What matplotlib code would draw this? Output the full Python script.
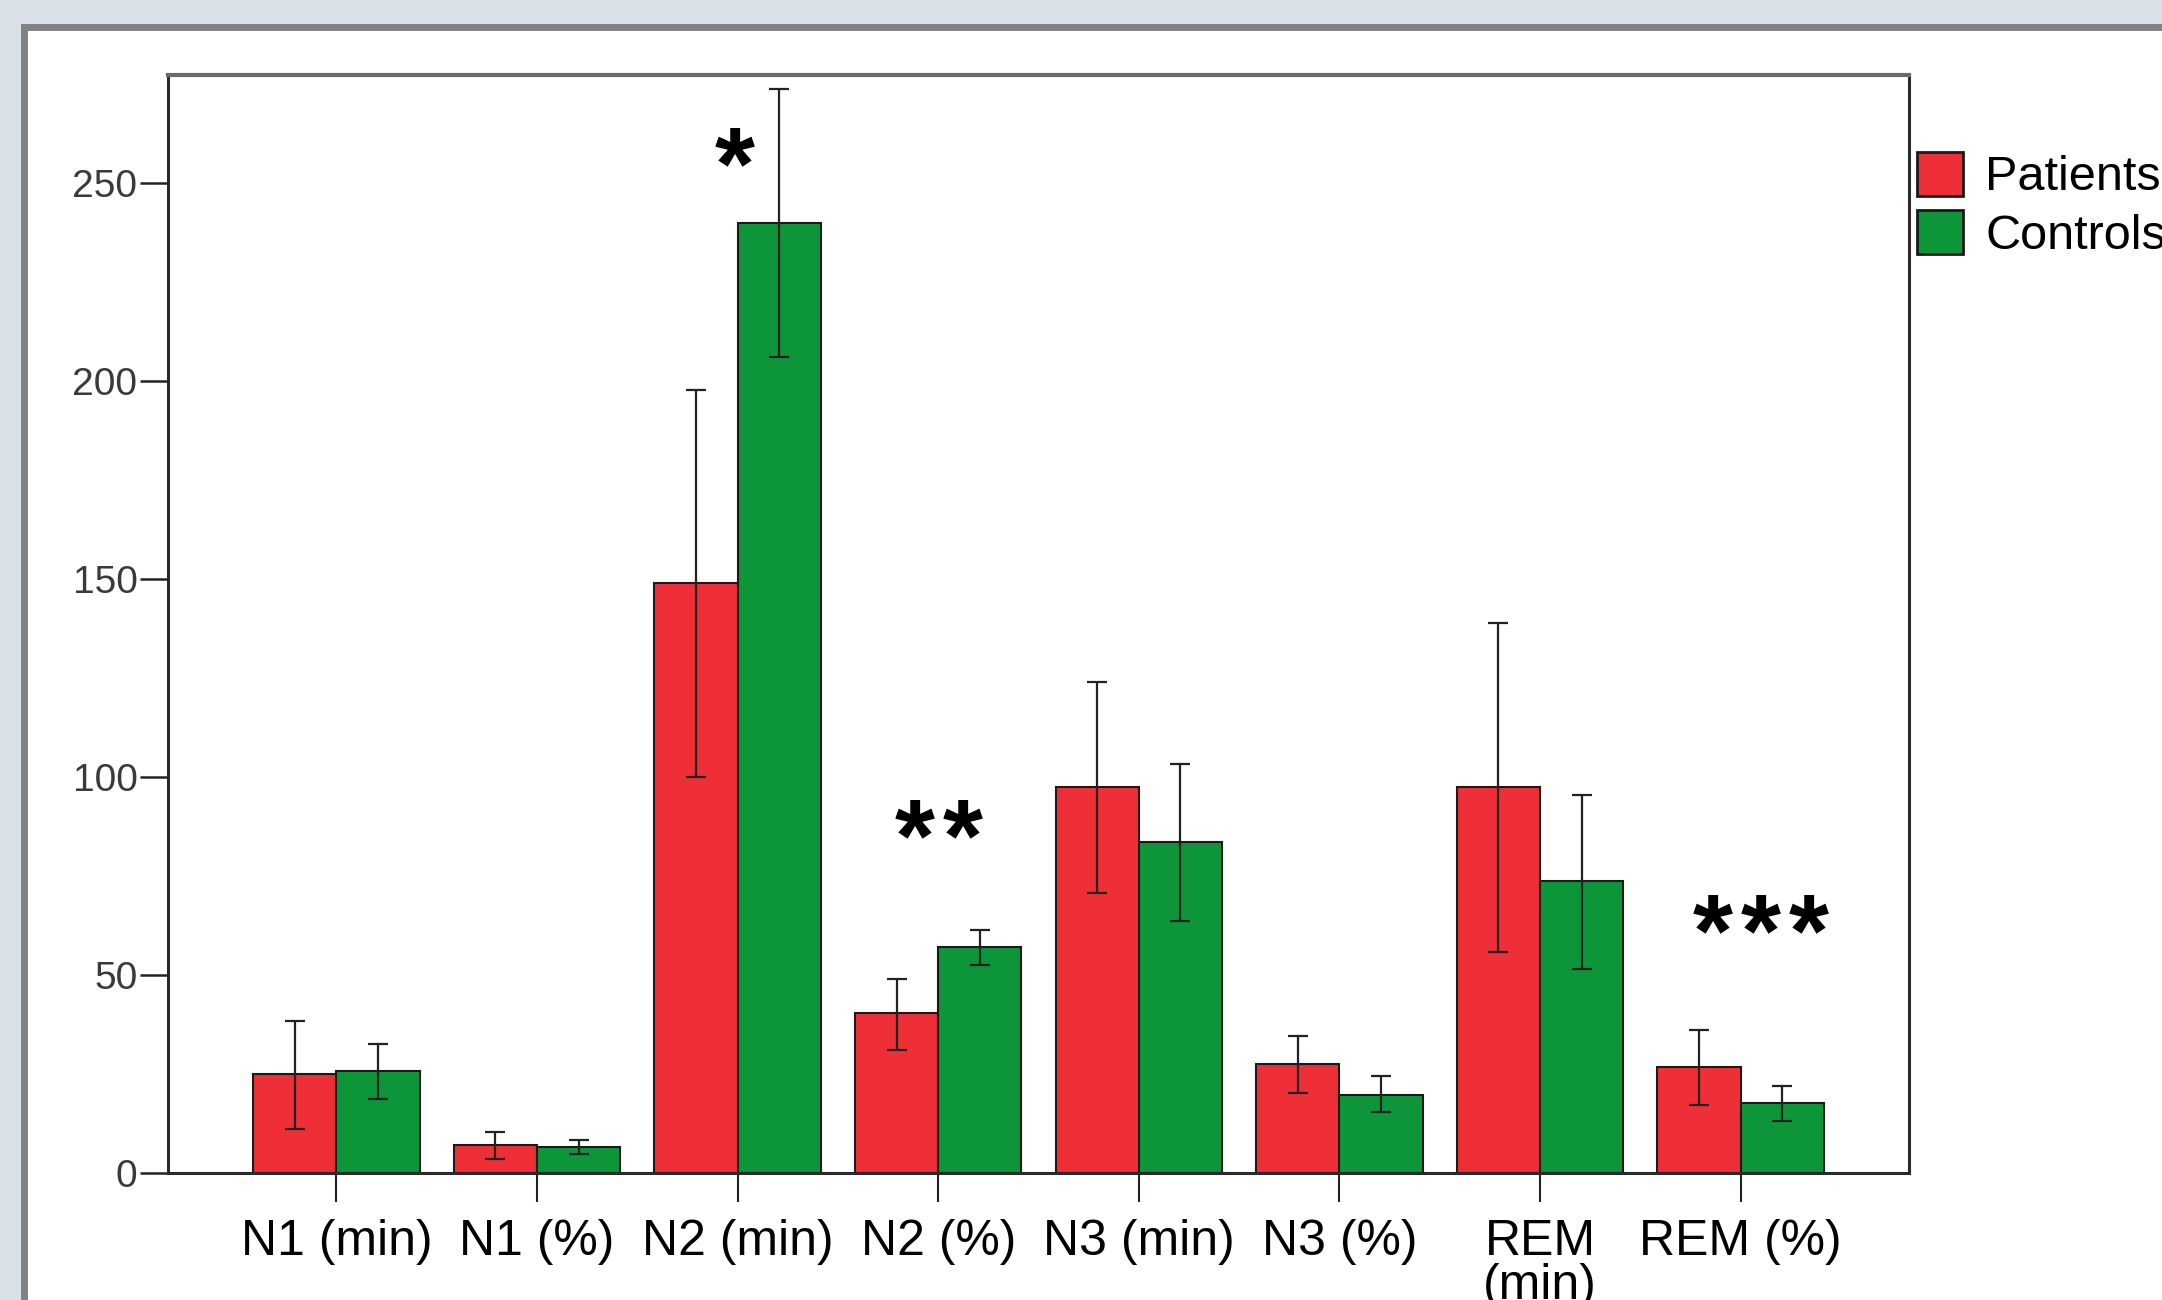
import numpy as np
import matplotlib
matplotlib.use('Agg')
import matplotlib.pyplot as plt
from matplotlib.patches import Rectangle
from matplotlib.transforms import offset_copy

# Sleep stage values
categories = ['N1 (min)', 'N1 (%)', 'N2 (min)', 'N2 (%)', 'N3 (min)', 'N3 (%)',
              'REM\n(min)', 'REM (%)']
patients = [25.1, 7.0, 149.0, 40.4, 97.5, 27.5, 97.5, 26.8]
patients_low = [11.1, 3.5, 99.9, 31.0, 70.7, 20.2, 55.7, 17.1]
patients_high = [38.3, 10.4, 197.8, 49.1, 124.0, 34.5, 138.9, 36.2]
controls = [25.8, 6.6, 239.9, 57.1, 83.6, 19.8, 73.8, 17.8]
controls_low = [18.8, 4.9, 206.1, 52.6, 63.7, 15.3, 51.5, 13.2]
controls_high = [32.7, 8.4, 273.7, 61.3, 103.4, 24.4, 95.4, 21.9]

# significance markers: (category index, y value, number of stars)
stars = [(1.986, 252.5, 1), (3.0, 83.0, 2), (7.1, 58.8, 3)]

yticks = [0, 50, 100, 150, 200, 250]

red = '#ef2f38'
green = '#0d9639'

plt.rcParams['font.family'] = ['Liberation Sans', 'DejaVu Sans']

fig = plt.figure(figsize=(21.62, 13.0), dpi=100, facecolor='#d9e0e8')

# white panel with grey frame behind the chart
W, H = 2162.0, 1300.0
panel = Rectangle((23.5 / W, -0.1), 1.2, 1.1 - 27.5 / H,
                  transform=fig.transFigure, facecolor='white',
                  edgecolor='#828282', linewidth=5.0, zorder=-10)
fig.patches.append(panel)

ax = fig.add_axes([168 / W, (H - 1173) / H, (1909 - 168) / W, (1173 - 75) / H])
ax.set_facecolor('white')

x = np.arange(len(categories))
bw = 0.415
err_p = [np.array(patients) - np.array(patients_low),
         np.array(patients_high) - np.array(patients)]
err_c = [np.array(controls) - np.array(controls_low),
         np.array(controls_high) - np.array(controls)]

b1 = ax.bar(x - bw / 2, patients, bw, color=red, edgecolor='#1a1a1a',
            linewidth=1.5, label='Patients', zorder=2)
b2 = ax.bar(x + bw / 2, controls, bw, color=green, edgecolor='#1a1a1a',
            linewidth=1.5, label='Controls', zorder=2)
ax.errorbar(x - bw / 2, patients, yerr=err_p, fmt='none', ecolor='#222222',
            elinewidth=1.6, capsize=7, capthick=1.6, zorder=3)
ax.errorbar(x + bw / 2, controls, yerr=err_c, fmt='none', ecolor='#222222',
            elinewidth=1.6, capsize=7, capthick=1.6, zorder=3)

# stars are spaced apart, so each one is placed on its own
step = 48 * 72 / 100.0  # points between star centres
for sx, sy, n in stars:
    for i in range(n):
        dx = (i - (n - 1) / 2.0) * step
        tr = offset_copy(ax.transData, fig=fig, x=dx, y=0, units='points')
        ax.text(sx, sy, '*', transform=tr, ha='center', va='center',
                fontsize=74, fontweight='bold', color='black', zorder=4)

ax.set_xlim(-0.84, 7.84)
ax.set_ylim(0, 277.3)
ax.set_xticks(x)
ax.set_xticklabels(categories, fontsize=36, color='black', linespacing=0.95)
ax.set_yticks(yticks)
ax.set_yticklabels([str(v) for v in yticks], fontsize=28, color='#3a3a3a')
ax.tick_params(axis='y', direction='out', length=20, width=1.8,
               color='#222222', pad=2)
ax.tick_params(axis='x', direction='out', length=21, width=1.5,
               color='#222222', pad=12)

for side in ['left', 'bottom', 'right']:
    ax.spines[side].set_color('#2a2a2a')
    ax.spines[side].set_linewidth(2.2)
ax.spines['top'].set_color('#6a6a6a')
ax.spines['top'].set_linewidth(3.0)

leg = ax.legend(handles=[b1, b2], loc='upper left',
                bbox_to_anchor=(1917 / W, 1 - 152 / H),
                bbox_transform=fig.transFigure, frameon=False, fontsize=35,
                handlelength=0.95, handleheight=1.0, handletextpad=0.45,
                labelspacing=0.2, borderpad=0, borderaxespad=0)
for h in leg.legend_handles:
    h.set_edgecolor('#1a1a1a')
    h.set_linewidth(2)

fig.savefig('out.png', dpi=100, facecolor=fig.get_facecolor())
